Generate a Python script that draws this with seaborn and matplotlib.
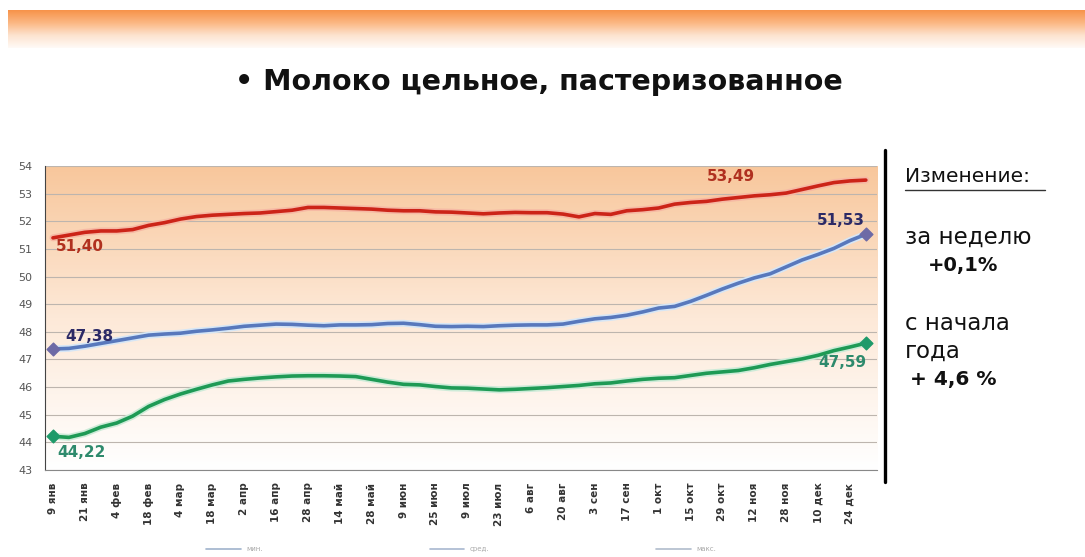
import numpy as np
import pandas as pd
import matplotlib
matplotlib.use("Agg")
import matplotlib.pyplot as plt
import matplotlib.patheffects as pe
from matplotlib.lines import Line2D
import seaborn as sns

sns.set_style("white")
plt.rcParams["font.family"] = ["DejaVu Sans"]

# weekly prices, rub.
price_max = [51.40, 51.50, 51.60, 51.65, 51.65, 51.70, 51.85, 51.95, 52.08, 52.17,
             52.22, 52.25, 52.28, 52.30, 52.35, 52.40, 52.50, 52.50, 52.48, 52.46,
             52.44, 52.40, 52.38, 52.38, 52.34, 52.33, 52.30, 52.27, 52.30, 52.32,
             52.31, 52.31, 52.26, 52.16, 52.28, 52.25, 52.38, 52.42, 52.48, 52.62,
             52.68, 52.72, 52.80, 52.86, 52.92, 52.96, 53.02, 53.15, 53.28, 53.40,
             53.46, 53.49]
price_avg = [47.38, 47.40, 47.48, 47.58, 47.68, 47.78, 47.88, 47.92, 47.95, 48.02,
             48.07, 48.13, 48.20, 48.24, 48.28, 48.27, 48.24, 48.22, 48.25, 48.25,
             48.26, 48.30, 48.31, 48.26, 48.20, 48.19, 48.20, 48.19, 48.22, 48.24,
             48.25, 48.25, 48.28, 48.38, 48.47, 48.52, 48.60, 48.72, 48.86, 48.92,
             49.10, 49.32, 49.55, 49.76, 49.95, 50.10, 50.35, 50.60, 50.80, 51.02,
             51.30, 51.53]
price_min = [44.22, 44.18, 44.32, 44.55, 44.70, 44.95, 45.30, 45.55, 45.75, 45.92,
             46.08, 46.22, 46.28, 46.33, 46.37, 46.40, 46.41, 46.41, 46.40, 46.38,
             46.28, 46.18, 46.10, 46.08, 46.02, 45.97, 45.96, 45.93, 45.90, 45.92,
             45.95, 45.98, 46.02, 46.06, 46.12, 46.15, 46.22, 46.28, 46.32, 46.34,
             46.42, 46.50, 46.55, 46.60, 46.70, 46.82, 46.92, 47.02, 47.15, 47.32,
             47.45, 47.59]

date_labels = ["9 янв", "21 янв", "4 фев", "18 фев", "4 мар", "18 мар", "2 апр",
               "16 апр", "28 апр", "14 май", "28 май", "9 июн", "25 июн", "9 июл",
               "23 июл", "6 авг", "20 авг", "3 сен", "17 сен", "1 окт", "15 окт",
               "29 окт", "12 ноя", "28 ноя", "10 дек", "24 дек"]
legend_labels = ["мин.", "сред.", "макс."]

weeks = np.arange(len(price_max))
df = pd.DataFrame({"week": weeks, "max": price_max, "avg": price_avg, "min": price_min})

fig = plt.figure(figsize=(10.85, 5.57), dpi=100)

# orange band at the top
band = fig.add_axes([8 / 1085, 1 - 48 / 557, 1 - 8 / 1085, 38 / 557])
grad = np.linspace(0, 1, 100).reshape(-1, 1)
band.imshow(grad, aspect="auto", cmap=matplotlib.colors.LinearSegmentedColormap.from_list(
    "band", ["#F7934A", "#FBB783", "#FDE3CF", "#FFFAF6"]), extent=[0, 1, 0, 1])
band.axis("off")

fig.text(0.497, 1 - 82 / 557, "• Молоко цельное, пастеризованное", ha="center", va="center",
         fontsize=20.5, fontweight="bold", color="#111111")

ax = fig.add_axes([45 / 1085, 1 - 470 / 557, 832 / 1085, 304 / 557])
bg = matplotlib.colors.LinearSegmentedColormap.from_list(
    "bg", ["#FFFFFF", "#FDE9D8", "#F8C79C"])
ax.imshow(np.linspace(0, 1, 200).reshape(-1, 1), aspect="auto", cmap=bg, origin="lower",
          extent=[-0.5, 51.7, 43, 54], zorder=0)

for col, color, halo in [("max", "#CC2418", "#F6B9A4"),
                         ("avg", "#5878BC", "#D6E6F6"),
                         ("min", "#1E9A55", "#CDEBD8")]:
    sns.lineplot(data=df, x="week", y=col, ax=ax, color=color, linewidth=2.6, zorder=3,
                 path_effects=[pe.Stroke(linewidth=5, foreground=halo), pe.Normal()])

for col, color in [("avg", "#6D6AA6"), ("min", "#1E9A6A")]:
    ends = df.iloc[[0, -1]]
    ax.scatter(ends["week"], ends[col], marker="D", s=42, color=color, zorder=4)

ax.text(0.2, price_max[0] - 0.48, f"{price_max[0]:.2f}".replace(".", ","), color="#B0301F",
        fontsize=11, fontweight="bold")
ax.text(0.8, price_avg[0] + 0.28, f"{price_avg[0]:.2f}".replace(".", ","), color="#2C2A66",
        fontsize=11, fontweight="bold")
ax.text(0.3, price_min[0] - 0.75, f"{price_min[0]:.2f}".replace(".", ","), color="#2E8A6C",
        fontsize=11, fontweight="bold")
ax.text(41.0, price_max[-1] - 0.02, f"{price_max[-1]:.2f}".replace(".", ","), color="#B0301F",
        fontsize=11, fontweight="bold")
ax.text(47.9, price_avg[-1] + 0.33, f"{price_avg[-1]:.2f}".replace(".", ","), color="#2C2A66",
        fontsize=11, fontweight="bold")
ax.text(48.0, price_min[-1] - 0.85, f"{price_min[-1]:.2f}".replace(".", ","), color="#2E8A6C",
        fontsize=11, fontweight="bold")

ax.set_xlim(-0.5, 51.7)
ax.set_ylim(43, 54)
ax.set_yticks(range(43, 55))
ax.set_yticklabels([str(v) for v in range(43, 55)], fontsize=8, color="#555555")
ax.set_xticks(weeks[::2])
ax.set_xticklabels(date_labels, rotation=90, fontsize=7.5, fontweight="bold", color="#333333")
ax.set_xticks(weeks, minor=True)
ax.tick_params(axis="both", which="both", direction="out", length=3, color="#666666", pad=6)
ax.tick_params(axis="x", which="minor", length=2)
ax.yaxis.grid(True, color="#BDB5AE", linewidth=0.8)
for sp in ["top", "right"]:
    ax.spines[sp].set_visible(False)
ax.spines["left"].set_color("#444444")
ax.spines["bottom"].set_color("#888888")
ax.set_xlabel("")
ax.set_ylabel("")
for gl in ax.get_ygridlines():
    gl.set_zorder(1)

# faint legend under the axis
handles = [Line2D([0], [0], color=c, linewidth=1.2) for c in ["#9FB3CC", "#A8B8D0", "#B0BCCC"]]
leg = fig.legend(handles, legend_labels, loc="center", bbox_to_anchor=(0.425, 1 - 549 / 557),
                 ncol=3, frameon=False, fontsize=5, columnspacing=24, handlelength=5)
for t in leg.get_texts():
    t.set_color("#AAAAAA")

# separator and comments
fig.add_artist(Line2D([885 / 1085, 885 / 1085], [1 - 482 / 557, 1 - 150 / 557],
                      color="black", linewidth=2.4))
fig.text(905 / 1085, 1 - 177 / 557, "Изменение:", fontsize=14.5, va="center", color="#111111")
fig.add_artist(Line2D([905 / 1085, 1045 / 1085], [1 - 190 / 557, 1 - 190 / 557],
                      color="#333333", linewidth=1))
fig.text(905 / 1085, 1 - 237 / 557, "за неделю", fontsize=16.5, va="center", color="#111111")
fig.text(928 / 1085, 1 - 266 / 557, "+0,1%", fontsize=14, fontweight="bold", va="center",
         color="#111111")
fig.text(905 / 1085, 1 - 323 / 557, "с начала", fontsize=16.5, va="center", color="#111111")
fig.text(905 / 1085, 1 - 351 / 557, "года", fontsize=16.5, va="center", color="#111111")
fig.text(910 / 1085, 1 - 380 / 557, "+ 4,6 %", fontsize=14.5, fontweight="bold", va="center",
         color="#111111")

fig.savefig("out.png", dpi=100)
